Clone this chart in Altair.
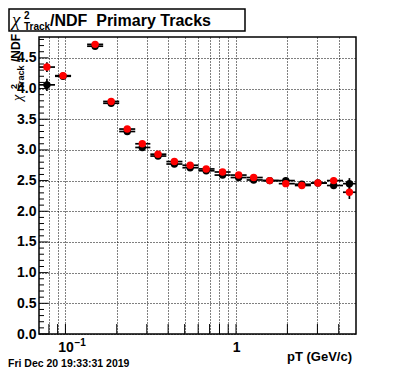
import altair as alt
import pandas as pd

# ---- data ----
pt = [0.0779, 0.0968, 0.1493, 0.1854, 0.2304, 0.2822, 0.3490, 0.4352, 0.5384, 0.6687,
      0.8341, 1.036, 1.269, 1.576, 1.958, 2.431, 3.020, 3.736, 4.62]
pt_lo = [0.0700, 0.0869, 0.1340, 0.1664, 0.2066, 0.2566, 0.3146, 0.3906, 0.4851, 0.6025,
         0.7484, 0.9295, 1.154, 1.434, 1.781, 2.212, 2.747, 3.412, 4.238]
pt_hi = [0.0869, 0.1079, 0.1664, 0.2066, 0.2566, 0.3146, 0.3906, 0.4851, 0.6025, 0.7484,
         0.9295, 1.154, 1.434, 1.781, 2.212, 2.747, 3.412, 4.238, 5.05]
black_val = [4.06, 4.20, 4.69, 3.76, 3.30, 3.04, 2.90, 2.77, 2.71, 2.66,
             2.59, 2.55, 2.51, 2.50, 2.50, 2.44, 2.46, 2.42, 2.45]
black_err = [0.10, 0.05, 0.04, 0.03, 0.03, 0.03, 0.02, 0.02, 0.02, 0.02,
             0.02, 0.02, 0.02, 0.03, 0.03, 0.03, 0.04, 0.05, 0.09]
red_val = [4.35, 4.21, 4.72, 3.79, 3.34, 3.10, 2.93, 2.81, 2.75, 2.69,
           2.64, 2.59, 2.55, 2.50, 2.45, 2.42, 2.46, 2.50, 2.31]
red_err = [0.08, 0.05, 0.04, 0.03, 0.03, 0.03, 0.02, 0.02, 0.02, 0.02,
           0.02, 0.02, 0.02, 0.03, 0.03, 0.03, 0.04, 0.05, 0.11]

x_ticks = [0.08, 0.09, 0.1, 0.2, 0.3, 0.4, 0.5, 0.6, 0.7, 0.8, 0.9, 1, 2, 3, 4]
y_major = [0, 0.5, 1, 1.5, 2, 2.5, 3, 3.5, 4, 4.5]
y_minor = [round(i * 0.1, 1) for i in range(0, 49) if i % 5 != 0]

title_main = "/NDF\u00a0 Primary Tracks"
chi = "\u03c7"
sup2 = "2"
sub_track = "Track"
ytitle_tail = "/NDF"
xtitle = "pT (GeV/c)"
exp_label = "\u22121"
date_text = "Fri Dec 20 19:33:31 2019"

W, H = 317, 297
FONT = "Liberation Sans"


def make_df(vals, errs):
    return pd.DataFrame({
        "pt": pt, "lo": pt_lo, "hi": pt_hi, "val": vals,
        "ylo": [v - e for v, e in zip(vals, errs)],
        "yhi": [v + e for v, e in zip(vals, errs)],
    })


df_black = make_df(black_val, black_err)
df_red = make_df(red_val, red_err)

xscale = alt.Scale(type="log", domain=[0.07, 5.05], nice=False)
yscale = alt.Scale(domain=[0, 4.84], nice=False, zero=False)

x_axis = alt.Axis(values=x_ticks, grid=True, gridDash=[1, 2], gridColor="black",
                  gridOpacity=1, gridWidth=1, ticks=False, tickSize=0, domain=False,
                  labelExpr="datum.value == 1 ? '1' : (datum.value > 0.099 && datum.value < 0.101 ? '10' : '')",
                  labelFont=FONT, labelFontWeight="bold", labelFontSize=14, labelColor="black",
                  labelPadding=6, labelOverlap=False, labelFlush=False, title=None)
y_axis = alt.Axis(values=y_major, grid=True, gridDash=[1, 2], gridColor="black",
                  gridOpacity=1, gridWidth=1, ticks=False, tickSize=0, domain=False,
                  labelFont=FONT, labelFontWeight="bold", labelFontSize=14, labelColor="black",
                  labelPadding=3, labelOverlap=False, labelFlush=False, title=None)


def X(f):
    return alt.X(f, type="quantitative", scale=xscale, axis=x_axis)


def Y(f):
    return alt.Y(f, type="quantitative", scale=yscale, axis=y_axis)


layers = []

# axis ticks drawn inside the frame
layers.append(alt.Chart(pd.DataFrame({"v": y_major})).mark_rule(color="black", strokeWidth=1)
              .encode(y=Y("v"), x=alt.value(0), x2=alt.value(9.5)))
layers.append(alt.Chart(pd.DataFrame({"v": y_minor})).mark_rule(color="black", strokeWidth=1)
              .encode(y=Y("v"), x=alt.value(0), x2=alt.value(5)))
layers.append(alt.Chart(pd.DataFrame({"v": x_ticks})).mark_rule(color="black", strokeWidth=1)
              .encode(x=X("v"), y=alt.value(H), y2=alt.value(H - 10)))

for df, col in [(df_black, "black"), (df_red, "red")]:
    layers.append(alt.Chart(df).mark_rule(color="black", strokeWidth=1.7)
                  .encode(x=X("lo"), x2="hi", y=Y("val")))
    layers.append(alt.Chart(df).mark_rule(color="black", strokeWidth=1.7)
                  .encode(x=X("pt"), y=Y("ylo"), y2="yhi"))
    layers.append(alt.Chart(df).mark_circle(color=col, size=55, opacity=1)
                  .encode(x=X("pt"), y=Y("val")))


def txt(s, x, y, size, weight="bold", font=FONT, style="normal", align="left", angle=0):
    return (alt.Chart(pd.DataFrame({"t": [s]}))
            .mark_text(font=font, fontSize=size, fontWeight=weight, fontStyle=style,
                       align=align, baseline="alphabetic", angle=angle, color="black")
            .encode(text="t:N", x=alt.value(x), y=alt.value(y)))


# title box
layers.append(alt.Chart(pd.DataFrame({"t": [0]})).mark_rect(fill="white", stroke="black", strokeWidth=1.5)
              .encode(x=alt.value(-30), x2=alt.value(206), y=alt.value(-28), y2=alt.value(-6)))
layers.append(txt(chi, -27, -11, 19, weight="normal", font="Liberation Serif", style="italic"))
layers.append(txt(sup2, -15, -18, 10))
layers.append(txt(sub_track, -15, -7.5, 10))
layers.append(txt(title_main, 11, -11.5, 16))

# y title (rotated)
layers.append(txt(chi, -17.5, 64, 14, weight="normal", font="Liberation Serif", style="italic", angle=270))
layers.append(txt(sup2, -22, 52, 9, angle=270))
layers.append(txt(sub_track, -15.5, 52, 9, angle=270))
layers.append(txt(ytitle_tail, -19.5, 25, 12, angle=270))

# x title, exponent, date
layers.append(txt(xtitle, 313, 324, 13, align="right"))
layers.append(alt.Chart(pd.DataFrame({"t": [exp_label], "v": [0.1]}))
              .mark_text(font=FONT, fontSize=10, fontWeight="bold", align="left",
                         baseline="alphabetic", dx=9, color="black")
              .encode(text="t:N", x=X("v"), y=alt.value(309)))
layers.append(txt(date_text, -31, 330, 10.5))

chart = (alt.layer(*layers)
         .properties(width=W, height=H, autosize="none",
                     padding={"left": 31, "top": 29, "right": 10, "bottom": 35},
                     background="white")
         .configure_view(stroke="black", strokeWidth=1.5))

chart.save("out.html", embed_options={"renderer": "svg", "actions": False})
